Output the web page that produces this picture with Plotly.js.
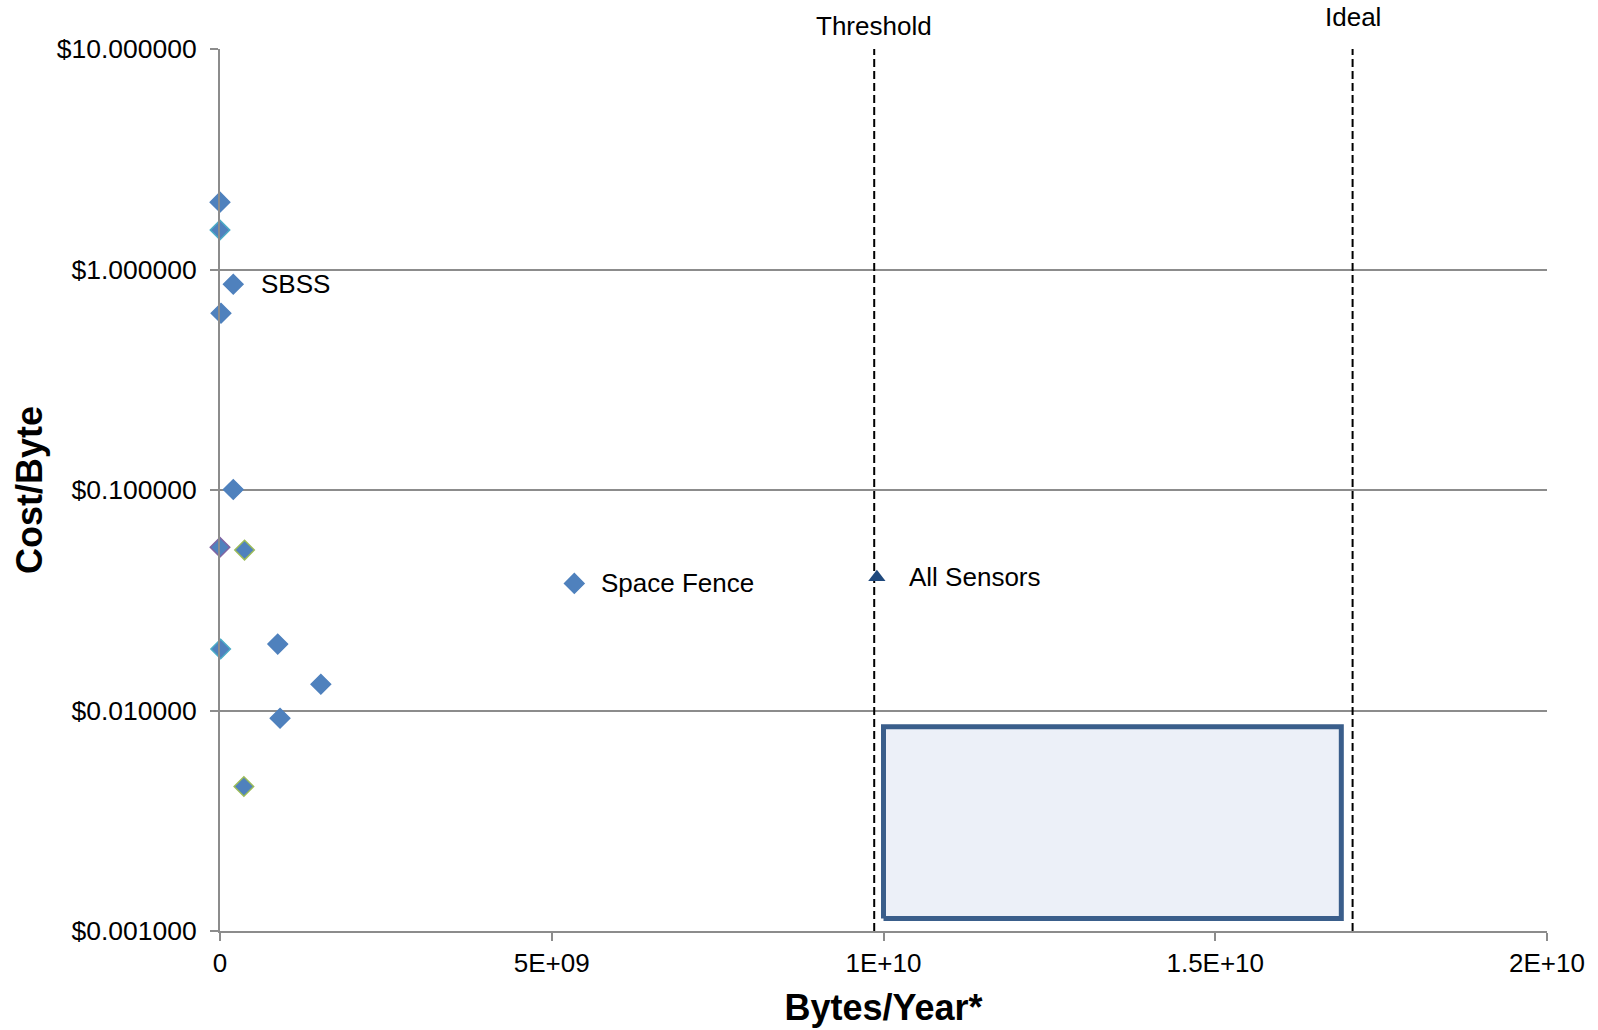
<!DOCTYPE html>
<html>
<head>
<meta charset="utf-8">
<script src="https://cdn.plot.ly/plotly-3.0.1.min.js"></script>
<style>html,body{margin:0;padding:0;background:#fff;}#chart{width:1598px;height:1030px;}</style>
</head>
<body>
<div id="chart"></div>
<script>
// Sensor series (Bytes/Year, Cost/Byte)
const blueX   = [0, 2.0e8, 1.5e7, 2.0e8, 5.34e9, 8.7e8, 1.52e9, 9.05e8];
const blueY   = [2.02, 0.857, 0.633, 0.1005, 0.0377, 0.020, 0.01315, 0.00922];
const tealX   = [0, 1.0e7];
const tealY   = [1.51, 0.0190];
const purpleX = [0];
const purpleY = [0.0550];
const greenX  = [3.7e8, 3.6e8];
const greenY  = [0.0534, 0.00452];
const allX    = [9.9e9];
const allY    = [0.0402];

// Labelled points
const labelText = ["SBSS", "Space Fence", "All Sensors"];
const labelX    = [2.0e8, 5.34e9, 9.9e9];
const labelY    = [0.857, 0.0377, 0.0402];

// Reference lines
const refNames  = ["Threshold", "Ideal"];
const refX      = [9.86e9, 1.707e10];

// Target region
const regionX = [1.0e10, 1.69e10];
const regionY = [0.00114, 0.00845];

// Axis ticks
const xTickVals = [0, 5e9, 1e10, 1.5e10, 2e10];
const xTickText = ["0", "5E+09", "1E+10", "1.5E+10", "2E+10"];
const yTickVals = [0.001, 0.01, 0.1, 1, 10];
const yTickText = ["$0.001000", "$0.010000", "$0.100000", "$1.000000", "$10.000000"];
const yRange = [0.001, 10];

const FONT = "Liberation Sans, Arial, sans-serif";
const BLUE = "#4f81bd";

function diamonds(x, y, lineColor) {
  return {
    type: "scatter", mode: "markers", x: x, y: y, showlegend: false, hoverinfo: "x+y",
    cliponaxis: false,
    marker: {symbol: "diamond", size: 15, color: BLUE, line: {color: lineColor, width: 1.5}}
  };
}

const traces = [];
// target region box
traces.push({
  type: "scatter", mode: "lines", showlegend: false, hoverinfo: "skip",
  x: [regionX[0], regionX[1], regionX[1], regionX[0], regionX[0]],
  y: [regionY[0], regionY[0], regionY[1], regionY[1], regionY[0]],
  fill: "toself", fillcolor: "#ecf0f8",
  line: {color: "#3a5e8b", width: 5}
});
refX.forEach(function (rx) {
  traces.push({
    type: "scatter", mode: "lines", x: [rx, rx], y: yRange, showlegend: false, hoverinfo: "skip",
    line: {color: "#000000", width: 2, dash: "8px,4px"}
  });
});
traces.push(diamonds(blueX, blueY, BLUE));
traces.push(diamonds(tealX, tealY, "#4bacc6"));
traces.push(diamonds(purpleX, purpleY, "#8064a2"));
traces.push(diamonds(greenX, greenY, "#9bbb59"));
traces.push({
  type: "scatter", mode: "markers", x: allX, y: allY, showlegend: false, cliponaxis: false,
  marker: {symbol: "triangle-up", size: 15, color: "#1f497d"}
});

const shifts = [26, 25, 30];
const annotations = labelText.map(function (t, i) {
  return {x: labelX[i], y: Math.log10(labelY[i]), xref: "x", yref: "y", text: t, showarrow: false,
    xanchor: "left", yanchor: "middle", xshift: shifts[i], font: {family: FONT, size: 26, color: "#000"}};
});
refNames.forEach(function (n, i) {
  annotations.push({x: refX[i], xref: "x", yref: "paper", y: 1, yshift: i === 0 ? 23 : 32,
    text: n, showarrow: false, xanchor: "center", yanchor: "middle",
    font: {family: FONT, size: 26, color: "#000"}});
});

const layout = {
  width: 1598, height: 1030,
  margin: {l: 220, r: 51, t: 49, b: 99},
  paper_bgcolor: "#ffffff", plot_bgcolor: "#ffffff",
  font: {family: FONT, size: 26, color: "#000"},
  showlegend: false,
  xaxis: {
    range: [0, 2e10], tickvals: xTickVals, ticktext: xTickText,
    showgrid: false, zeroline: false, showline: true, linecolor: "#8c8c8c", linewidth: 2,
    ticks: "outside", ticklen: 8, tickwidth: 2, tickcolor: "#8c8c8c",
    tickfont: {family: FONT, size: 26, color: "#000"},
    title: {text: "<b>Bytes/Year*</b>", font: {family: FONT, size: 36, color: "#000"}, standoff: 18}
  },
  yaxis: {
    type: "log", range: [-3, 1], tickvals: yTickVals, ticktext: yTickText,
    showgrid: true, gridcolor: "#8c8c8c", gridwidth: 2, zeroline: false,
    showline: true, linecolor: "#8c8c8c", linewidth: 2,
    ticks: "outside", ticklen: 8, tickwidth: 2, tickcolor: "#8c8c8c",
    ticklabelstandoff: 8,
    tickfont: {family: FONT, size: 26.5, color: "#000"},
    title: {text: "<b>Cost/Byte</b>", font: {family: FONT, size: 36, color: "#000"}, standoff: 3}
  },
  annotations: annotations
};

Plotly.newPlot("chart", traces, layout, {staticPlot: true, displayModeBar: false});
</script>
</body>
</html>
